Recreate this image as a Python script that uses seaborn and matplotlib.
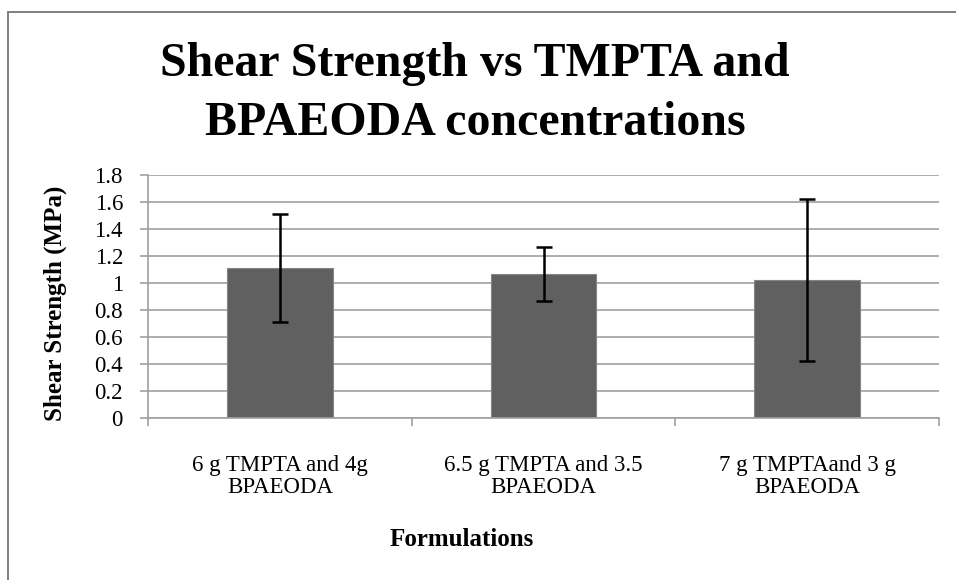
import matplotlib
matplotlib.use("Agg")
import matplotlib.pyplot as plt
import seaborn as sns
import pandas as pd
import numpy as np
from matplotlib.patches import Rectangle

categories = ["6 g TMPTA and 4g\nBPAEODA", "6.5 g TMPTA and 3.5\nBPAEODA", "7 g TMPTAand 3 g\nBPAEODA"]
strength = [1.11, 1.07, 1.02]
errors = [0.40, 0.20, 0.60]

df = pd.DataFrame({"Formulation": categories, "Strength": strength})

sns.set_theme(style="white")
plt.rcParams['font.family'] = ['Liberation Serif', 'DejaVu Serif']
plt.rcParams['text.color'] = 'black'
plt.rcParams['axes.labelcolor'] = 'black'
plt.rcParams['xtick.color'] = 'black'
plt.rcParams['ytick.color'] = 'black'

W, H = 956, 580
fig = plt.figure(figsize=(W / 100, H / 100), dpi=100)
L, R, T, B = 148, 939, 175, 418
ax = fig.add_axes([L / W, 1 - B / H, (R - L) / W, (B - T) / H])

sns.barplot(data=df, x="Formulation", y="Strength", color="#606060", width=0.4,
            errorbar=None, ax=ax, saturation=1, edgecolor="#858585", linewidth=0.8, zorder=2)
ax.errorbar(x=np.arange(len(strength)), y=strength, yerr=errors, fmt="none",
            ecolor="black", elinewidth=1.8, capsize=5.5, capthick=1.8, zorder=3)

ax.set_xlim(-0.5, 2.5)
ax.set_ylim(0, 1.8)
ax.set_yticks(np.arange(0, 1.81, 0.2))
ax.set_yticklabels(["0", "0.2", "0.4", "0.6", "0.8", "1", "1.2", "1.4", "1.6", "1.8"], fontsize=16.5)
ax.yaxis.grid(True, color="#a0a0a0", linewidth=1.2, zorder=0)
ax.set_axisbelow(True)

ax.set_xticks(np.arange(3))
ax.set_xticklabels(categories, fontsize=16.5, linespacing=1.05)
ax.tick_params(axis="x", which="major", length=0, pad=27)
ax.set_xticks([-0.5, 0.5, 1.5, 2.5], minor=True)
ax.tick_params(axis="x", which="minor", length=6, color="#a0a0a0", width=1.2, direction="out", bottom=True)
ax.tick_params(axis="y", length=6, color="#a0a0a0", labelcolor="black", width=1.2, direction="out", left=True, pad=12)

for s in ["top", "right"]:
    ax.spines[s].set_visible(False)
for s in ["left", "bottom"]:
    ax.spines[s].set_color("#a0a0a0")
    ax.spines[s].set_linewidth(1.2)

ax.set_ylabel("Shear Strength (MPa)", fontsize=18, fontweight="bold", va="center")
ax.yaxis.set_label_coords((55 - L) / (R - L), 0.47)
ax.set_xlabel("Formulations", fontsize=18, fontweight="bold", va="center")
ax.xaxis.set_label_coords((462 - L) / (R - L), -(540 - B) / (B - T))

fig.text(475 / W, 1 - 42 / H, "Shear Strength vs TMPTA and\nBPAEODA concentrations", ha="center", va="top",
         fontsize=34.5, fontweight="bold", linespacing=1.45)

fig.patches.append(Rectangle((8 / W, -0.05), 1.1, 1.05 - 11.5 / H, transform=fig.transFigure,
                             fill=False, edgecolor="#808080", linewidth=1.4))

fig.savefig("out.png", dpi=100)
